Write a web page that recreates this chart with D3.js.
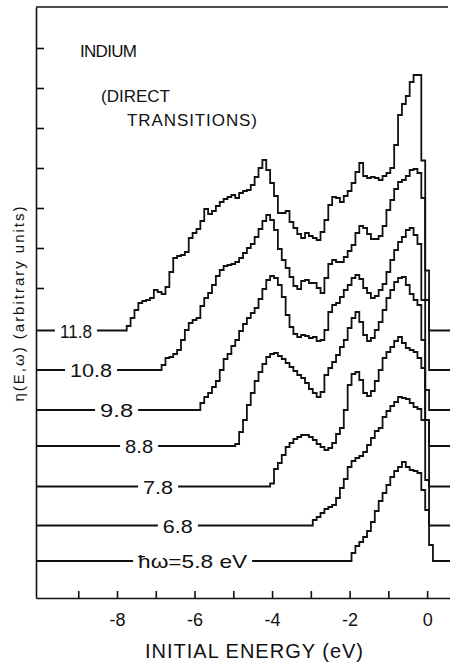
<!DOCTYPE html>
<html>
<head>
<meta charset="utf-8">
<script src="https://cdn.jsdelivr.net/npm/d3@7/dist/d3.min.js"></script>
<style>
  body { margin: 0; background: #fff; }
  text { font-family: "Liberation Sans", Arial, sans-serif; fill: #111; }
</style>
</head>
<body>
<div id="chart"></div>
<script>
// photon energies, bottom curve to top curve
var photonEnergies = [5.8, 6.8, 7.8, 8.8, 9.8, 10.8, 11.8];
var curveLabels = ["ħω=5.8 eV", "6.8", "7.8", "8.8", "9.8", "10.8", "11.8"];
// vertical offset of each curve (arbitrary units)
var baselines = [4.7, 8.25, 12.15, 16.2, 19.8, 23.8, 27.75];
// first initial energy (eV) of each sampled curve, samples every 0.1 eV
var startEnergies = [-2.0, -3.0, -4.1, -5.0, -5.9, -6.9, -7.8];

// eta(E,w) above its own baseline
var eta58 = [0, 0.8, 1.5, 1.9, 2.4, 3.0, 3.9, 5.0, 6.0, 6.8, 7.6, 8.4, 9.0, 9.4, 9.9, 9.4, 9.1, 9.0, 8.8, 7.1, 5.1, 1.6, 0];
var eta68 = [0, 0.55, 0.85, 1.25, 1.65, 1.85, 2.05, 2.75, 3.75, 4.65, 5.85, 6.45, 6.75, 6.95, 7.35, 8.05, 8.75, 9.45, 9.75,
  10.85, 11.45, 11.95, 12.35, 12.85, 12.75, 12.65, 12.25, 11.85, 11.65, 10.55, 4.55, 0];
var eta78 = [0, 0.3, 1.75, 2.35, 3.15, 3.95, 4.35, 4.75, 4.95, 5.15, 5.15, 4.95, 4.65, 4.25, 3.95, 3.65, 3.85, 4.35, 5.25, 5.85,
  7.65, 10.15, 11.25, 11.45, 10.65, 9.35, 9.05, 9.55, 10.55, 11.65, 12.85, 13.45, 13.95, 14.55, 14.95, 14.35, 13.85, 13.65,
  13.45, 12.85, 11.85, 6.65, 0];
var eta88 = [0, 0.2, 1.4, 2.6, 4.1, 5.3, 6.5, 7.4, 8.2, 8.9, 9.2, 9.3, 9.0, 8.7, 8.3, 7.9, 7.5, 7.1, 6.8, 6.3, 5.7, 5.3, 4.9,
  5.4, 7.1, 7.8, 8.4, 9.1, 9.9, 10.6, 11.8, 12.8, 13.4, 12.4, 11.1, 10.5, 10.8, 11.6, 12.4, 13.6, 14.8, 15.6, 16.4, 16.8,
  16.9, 16.1, 15.2, 14.6, 14.1, 10.6, 2.6, 0];
var eta98 = [0, 0.7, 1.3, 1.7, 2.3, 2.9, 4.0, 5.1, 5.6, 6.4, 7.0, 7.9, 8.6, 9.2, 9.7, 10.2, 11.1, 12.1, 13.0, 13.4, 13.2, 12.5,
  11.3, 9.5, 8.3, 7.6, 7.3, 7.5, 7.4, 7.2, 7.3, 6.9, 7.0, 8.0, 9.8, 10.5, 10.7, 11.3, 12.0, 12.5, 13.2, 13.5, 13.1, 12.2,
  11.7, 11.2, 11.4, 12.0, 12.6, 13.8, 15.0, 16.0, 16.8, 17.3, 18.0, 18.2, 17.5, 16.6, 11.0, 2.0, 0];
var eta108 = [0, 0.5, 1.2, 1.3, 1.6, 2.0, 3.0, 4.0, 4.7, 5.0, 5.2, 6.4, 7.2, 7.7, 8.5, 9.4, 10.0, 10.4, 10.5, 10.6, 10.8,
  11.2, 11.7, 12.2, 12.6, 13.3, 14.1, 14.9, 15.5, 15.0, 14.0, 12.1, 11.0, 10.2, 9.3, 8.4, 8.1, 8.9, 9.0, 8.7, 8.7, 8.2, 7.7,
  9.2, 10.6, 11.0, 10.8, 10.8, 11.3, 11.9, 12.5, 13.7, 14.4, 14.2, 13.6, 13.1, 13.1, 13.4, 14.4, 16.0, 17.0, 18.1, 18.8,
  19.0, 19.4, 20.0, 20.1, 19.7, 17.2, 7.0, 0];
var eta118 = [0, 0.45, 1.25, 2.05, 2.75, 2.95, 3.05, 3.25, 4.05, 3.85, 3.65, 4.35, 5.85, 7.25, 7.45, 7.55, 7.85, 9.25, 9.75,
  10.15, 10.95, 12.15, 11.65, 11.95, 12.45, 12.85, 13.15, 13.35, 13.55, 13.25, 13.75, 13.95, 14.05, 14.55, 15.35, 16.25,
  17.05, 16.05, 14.75, 13.45, 11.75, 11.75, 11.95, 10.85, 10.25, 9.65, 9.25, 9.75, 9.45, 9.25, 9.05, 9.85, 11.05, 12.55,
  13.35, 13.25, 12.85, 13.45, 13.95, 14.75, 15.85, 16.75, 15.45, 15.25, 15.35, 15.25, 15.05, 15.45, 15.75, 16.25, 18.55,
  21.55, 22.65, 23.45, 24.85, 25.55, 25.55, 17.0, 6.0, 0];
var etaSeries = [eta58, eta68, eta78, eta88, eta98, eta108, eta118];

var xTicks = [-9, -8, -7, -6, -5, -4, -3, -2, -1, 0];
var yTicks = [32, 36, 40, 44, 48, 52, 56];

var svgWidth = 450;
var svgHeight = 664;

var svg = d3.select("#chart")
  .append("svg")
  .attr("width", svgWidth)
  .attr("height", svgHeight);

var xScale = d3.scaleLinear().domain([-10.09, 0.59]).range([36, 450]);
var yScale = d3.scaleLinear().domain([1.0, 60.1]).range([598, 7]);

// frame
svg.append("line")
  .attr("x1", 36).attr("x2", 448)
  .attr("y1", yScale(60.1)).attr("y2", yScale(60.1))
  .attr("stroke", "#111").attr("stroke-width", 1.6);

var bottomAxis = d3.axisBottom(xScale)
  .tickValues(xTicks)
  .tickSizeInner(-7)
  .tickSizeOuter(0)
  .tickPadding(15)
  .tickFormat(d => d % 2 === 0 ? String(d) : "");

var xAxis = svg.append("g")
  .attr("transform", `translate(0, ${yScale(1.0)})`)
  .call(bottomAxis);
xAxis.selectAll("path, line").attr("stroke", "#111").attr("stroke-width", 1.6);
xAxis.selectAll("text")
  .style("font-size", "18px")
  .style("font-family", "'Liberation Sans', Arial, sans-serif")
  .attr("fill", "#111");

var leftAxis = d3.axisLeft(yScale)
  .tickValues(yTicks)
  .tickSizeInner(-8)
  .tickSizeOuter(0)
  .tickFormat("");

var yAxis = svg.append("g")
  .attr("transform", `translate(${xScale(-10.09)}, 0)`)
  .call(leftAxis);
yAxis.selectAll("path, line").attr("stroke", "#111").attr("stroke-width", 1.6);

// curves
var line = d3.line()
  .x(d => xScale(d[0]))
  .y(d => yScale(d[1]))
  .curve(d3.curveStep);

var curveGroup = svg.append("g");
etaSeries.forEach(function(values, i) {
  var base = baselines[i];
  var pts = [[-10.09, base]];
  values.forEach(function(v, j) {
    var e = Math.round((startEnergies[i] + j * 0.1) * 10) / 10;
    pts.push([e, base + v]);
  });
  pts.push([0.59, base]);
  curveGroup.append("path")
    .attr("d", line(pts))
    .attr("fill", "none")
    .attr("stroke", "#111")
    .attr("stroke-width", 1.8)
    .attr("stroke-linejoin", "miter");
});

// curve labels sitting in gaps of the baselines
var labelCenters = [-6.05, -6.43, -6.94, -7.43, -8.01, -8.67, -9.06];
var labelWidths = [109, 30, 30, 28, 33, 42, 32];
curveLabels.forEach(function(lbl, i) {
  var y = yScale(baselines[i]);
  var cx = xScale(labelCenters[i]);
  var w = labelWidths[i];
  svg.append("rect")
    .attr("x", cx - w / 2 - 5)
    .attr("y", y - 3)
    .attr("width", w + 10)
    .attr("height", 6)
    .attr("fill", "#fff");
  svg.append("text")
    .attr("x", cx)
    .attr("y", y + 7)
    .attr("text-anchor", "middle")
    .attr("textLength", w)
    .attr("lengthAdjust", "spacingAndGlyphs")
    .style("font-size", "19px")
    .text(lbl);
});

// annotations
svg.append("text").attr("x", 80).attr("y", 57)
  .attr("textLength", 57).style("font-size", "17px").text("INDIUM");
svg.append("text").attr("x", 101).attr("y", 102)
  .attr("textLength", 69).style("font-size", "17px").text("(DIRECT");
svg.append("text").attr("x", 127).attr("y", 126)
  .attr("textLength", 130).style("font-size", "17px").text("TRANSITIONS)");

// axis titles
svg.append("text")
  .attr("x", 254).attr("y", 658)
  .attr("text-anchor", "middle")
  .attr("textLength", 218)
  .style("font-size", "20px")
  .text("INITIAL ENERGY (eV)");

svg.append("text")
  .attr("transform", "translate(24, 304) rotate(-90)")
  .attr("text-anchor", "middle")
  .attr("textLength", 195)
  .style("font-size", "15px")
  .text("η(E,ω) (arbitrary units)");
</script>
</body>
</html>
